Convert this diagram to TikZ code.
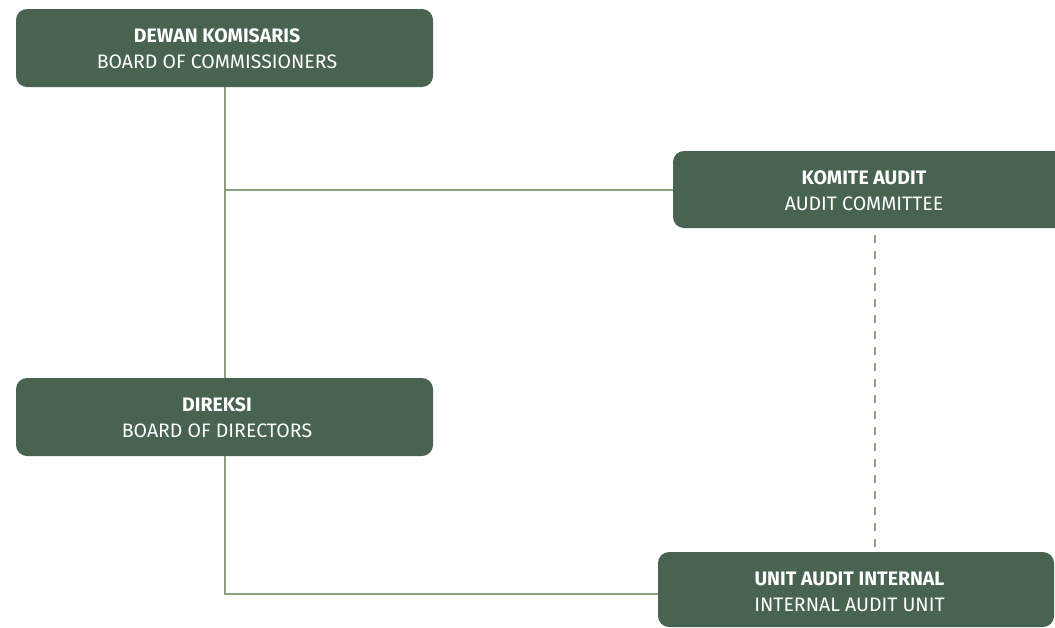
\documentclass[tikz,border=0pt]{standalone}
\usepackage{fontspec}
\setmainfont{Fira Sans}
\definecolor{boxgreen}{HTML}{48634F}
\definecolor{linegreen}{HTML}{8E9E7E}
\begin{document}
\begin{tikzpicture}[x=1pt,y=-1pt,
  orgbox/.style={fill=boxgreen,rounded corners=11pt},
  orgtext/.style={text=white,align=center,font=\fontsize{19.5}{26}\selectfont},
  link/.style={draw=linegreen,line width=2.8pt},
  dotted link/.style={draw=linegreen,line width=2.8pt,dash pattern=on 8pt off 8pt}]
\useasboundingbox (0,0) rectangle (1055,627);
\begin{scope}
\clip (0,0) rectangle (1055,627);
% connectors
\coordinate (v1) at (225,190);
\coordinate (v2) at (225,594);
\draw[link] (225,86) -- (225,379);
\draw[link] (225,454) -- (v2) -- (660,594);
\draw[link] (v1) -- (674,190);
\draw[dotted link] (875,235) -- (875,548);
% boxes
\fill[orgbox] (16,9) rectangle (433,87);
\node[orgtext] (dk) at (217,49) {\textbf{DEWAN KOMISARIS}\\BOARD OF COMMISSIONERS};
\fill[orgbox] (673,151) rectangle (1075,228);
\node[orgtext] (ka) at (864,191) {\textbf{KOMITE AUDIT}\\AUDIT COMMITTEE};
\fill[orgbox] (16,378) rectangle (433,456);
\node[orgtext] (dir) at (217,418) {\textbf{DIREKSI}\\BOARD OF DIRECTORS};
\fill[orgbox] (658,552) rectangle (1054,627);
\node[orgtext] (uai) at (849.5,592) {\textbf{UNIT AUDIT INTERNAL}\\INTERNAL AUDIT UNIT};
\end{scope}
\end{tikzpicture}
\end{document}
